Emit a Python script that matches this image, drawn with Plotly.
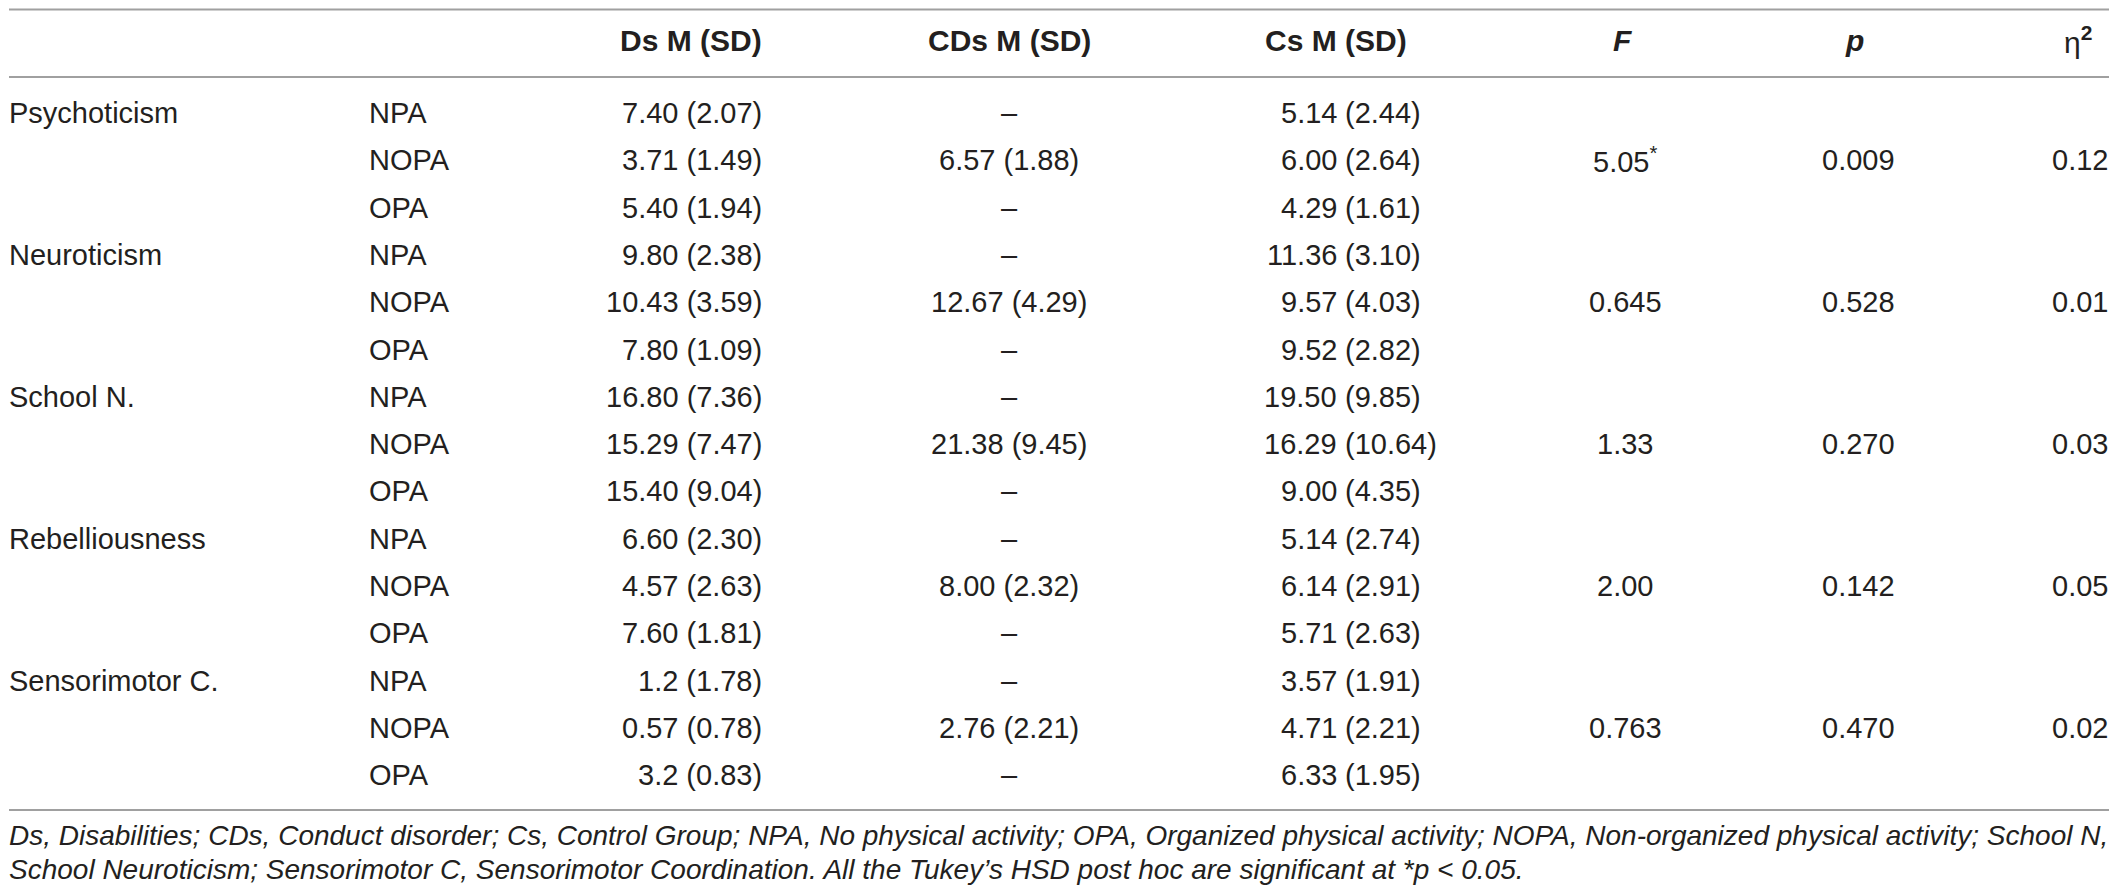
import plotly.graph_objects as go

# ================= TABLE DATA =================
MEASURES = ["Psychoticism", "Neuroticism", "School N.", "Rebelliousness", "Sensorimotor C."]
GROUPS = ["NPA", "NOPA", "OPA"]

DS = ["7.40 (2.07)", "3.71 (1.49)", "5.40 (1.94)",
      "9.80 (2.38)", "10.43 (3.59)", "7.80 (1.09)",
      "16.80 (7.36)", "15.29 (7.47)", "15.40 (9.04)",
      "6.60 (2.30)", "4.57 (2.63)", "7.60 (1.81)",
      "1.2 (1.78)", "0.57 (0.78)", "3.2 (0.83)"]
CDS = ["6.57 (1.88)", "12.67 (4.29)", "21.38 (9.45)", "8.00 (2.32)", "2.76 (2.21)"]  # NOPA rows only
CS_MEAN = ["5.14", "6.00", "4.29", "11.36", "9.57", "9.52", "19.50", "16.29", "9.00",
           "5.14", "6.14", "5.71", "3.57", "4.71", "6.33"]
CS_SD = ["(2.44)", "(2.64)", "(1.61)", "(3.10)", "(4.03)", "(2.82)", "(9.85)", "(10.64)", "(4.35)",
         "(2.74)", "(2.91)", "(2.63)", "(1.91)", "(2.21)", "(1.95)"]
F_VALS = ["5.05<sup>*</sup>", "0.645", "1.33", "2.00", "0.763"]
P_VALS = ["0.009", "0.528", "0.270", "0.142", "0.470"]
ETA_VALS = ["0.12", "0.01", "0.03", "0.05", "0.02"]

HEADERS = ["<b>Ds M (SD)</b>", "<b>CDs M (SD)</b>", "<b>Cs M (SD)</b>",
           "<b><i>F</i></b>", "<b><i>p</i></b>", "η<sup><b>2</b></sup>"]

NOTE = ["Ds, Disabilities; CDs, Conduct disorder; Cs, Control Group; NPA, No physical activity; "
        "OPA, Organized physical activity; NOPA, Non-organized physical activity; School N,",
        "School Neuroticism; Sensorimotor C, Sensorimotor Coordination. "
        "All the Tukey’s HSD post hoc are significant at *p &lt; 0.05."]

# ================= LAYOUT CONSTANTS =================
# the page body has an 8px margin, so the figure is 16px smaller and the
# axis ranges are shifted so that coordinates below are window pixels
W, H = 2117, 896
PAD = 8
ROW0, ROW_H = 113, 47.3
HEAD_Y = 40
TXT = "#231f20"
FONT = "Liberation Sans"
BODY = 29

X_MEAS = 9
X_GRP = 369
X_DS = 762
X_CDS = 1009
X_CS_SPLIT = 1337
X_F = 1625
X_P = 1858
X_ETA = 2108

annotations = []


def cell(x, y, text, anchor, size=BODY):
    annotations.append(dict(x=x, y=y, xref="x", yref="y", text=text, showarrow=False,
                            xanchor=anchor, yanchor="middle", borderpad=0, borderwidth=0,
                            font=dict(family=FONT, size=size, color=TXT)))


# header row
head_pos = [(X_DS, "right"), (X_CDS, "center"), (1407, "right"),
            (1622, "center"), (1854, "center"), (2092, "right")]
for (x, anc), h in zip(head_pos, HEADERS):
    cell(x, HEAD_Y, h, anc, size=30)

# body rows
for i in range(len(DS)):
    y = ROW0 + i * ROW_H
    m, g = divmod(i, 3)
    if g == 0:
        cell(X_MEAS, y, MEASURES[m], "left")
    cell(X_GRP, y, GROUPS[g], "left")
    cell(X_DS, y, DS[i], "right")
    cell(X_CDS, y, CDS[m] if g == 1 else "–", "center")
    # Cs column is aligned on the mean value
    cell(X_CS_SPLIT, y, CS_MEAN[i], "right")
    cell(X_CS_SPLIT + 8, y, CS_SD[i], "left")
    if g == 1:
        cell(X_F, y, F_VALS[m], "center")
        cell(X_P, y, P_VALS[m], "center")
        cell(X_ETA, y, ETA_VALS[m], "right")

# footnote
for k, line in enumerate(NOTE):
    cell(X_MEAS, 835 + k * 34, "<i>" + line + "</i>", "left", size=28)

rule = dict(type="line", xref="x", yref="y", x0=X_MEAS, x1=2111, line=dict(color="#a0a0a0", width=2))
shapes = [dict(rule, y0=yy, y1=yy) for yy in (9.5, 77, 810)]

fig = go.Figure()
fig.update_layout(
    width=W - 2 * PAD, height=H - 2 * PAD,
    margin=dict(l=0, r=0, t=0, b=0),
    paper_bgcolor="white", plot_bgcolor="white",
    xaxis=dict(range=[PAD, W - PAD], visible=False, fixedrange=True),
    yaxis=dict(range=[H - PAD, PAD], visible=False, fixedrange=True),
    annotations=annotations,
    shapes=shapes,
    showlegend=False,
)
fig.write_html("out.html")
